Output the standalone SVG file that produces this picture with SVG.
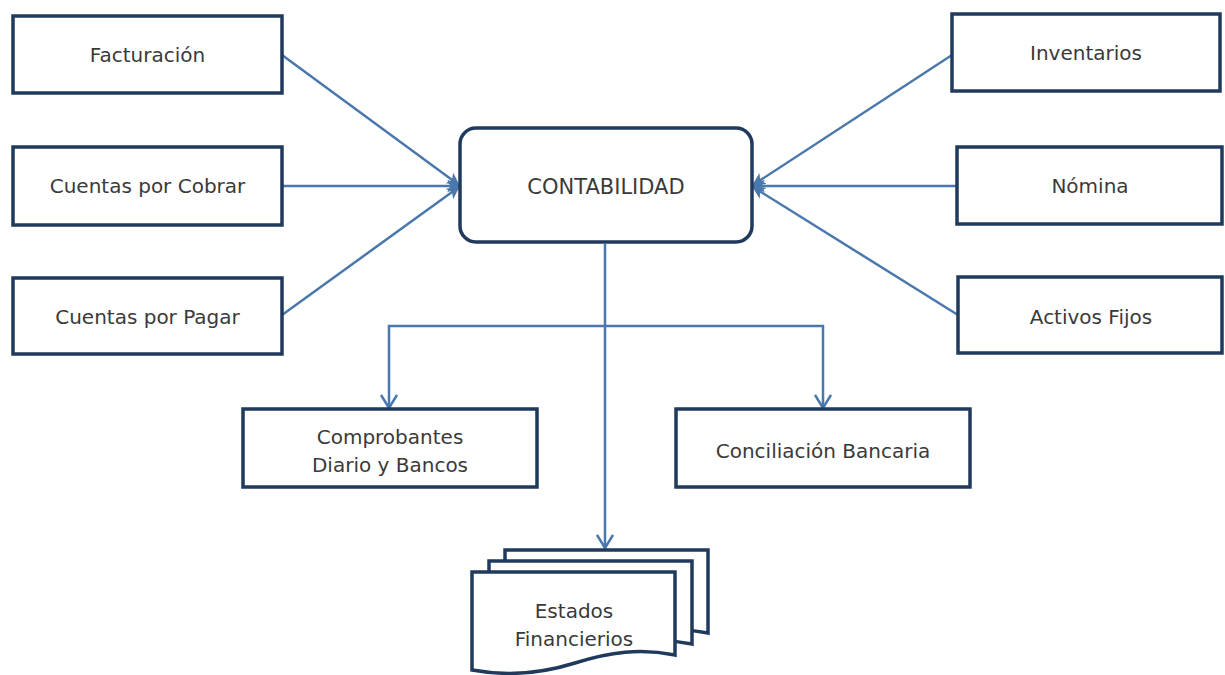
<svg xmlns="http://www.w3.org/2000/svg" width="1225" height="675" viewBox="0 0 1225 675">
<defs>
<style>
.box{fill:#ffffff;stroke:#1f3a5c;stroke-width:3.5}
.lbl{font-family:"DejaVu Sans","Liberation Sans",sans-serif;font-size:20px;fill:#3a3a3a;text-anchor:middle;dominant-baseline:central}
.con{fill:none;stroke:#4a78ad;stroke-width:2.5}
</style>
<marker id="af" viewBox="0 0 12 12" refX="11" refY="6" markerWidth="13" markerHeight="13" markerUnits="userSpaceOnUse" orient="auto">
<path d="M0,0 L12,6 L0,12 L3,6 z" fill="#4a78ad"/>
</marker>
<marker id="av" viewBox="0 0 16 18" refX="14" refY="9" markerWidth="16" markerHeight="18" markerUnits="userSpaceOnUse" orient="auto">
<path d="M1,1 L14,9 L1,17" fill="none" stroke="#4a78ad" stroke-width="2.5"/>
</marker>
<path id="doc" d="M0,0 H203 V83 C168,76 138,80 103,91 C68,102 33,104 0,98 Z"/>
</defs>
<rect width="1225" height="675" fill="#ffffff"/>

<g id="connectors">
<line class="con" x1="282" y1="55" x2="459" y2="185" marker-end="url(#af)"/>
<line class="con" x1="282" y1="186" x2="459" y2="186" marker-end="url(#af)"/>
<line class="con" x1="282" y1="315" x2="459" y2="187" marker-end="url(#af)"/>
<line class="con" x1="952" y1="55" x2="753" y2="185" marker-end="url(#af)"/>
<line class="con" x1="957" y1="186" x2="753" y2="186" marker-end="url(#af)"/>
<line class="con" x1="958" y1="315" x2="753" y2="187" marker-end="url(#af)"/>
<path class="con" d="M605,244 V548" marker-end="url(#av)"/>
<path class="con" d="M605,326 H389 V408" marker-end="url(#av)"/>
<path class="con" d="M605,326 H823 V408" marker-end="url(#av)"/>
</g>

<g id="facturacion">
<rect class="box" x="13" y="16" width="269" height="77"/>
<text class="lbl" x="147.5" y="55">Facturación</text>
</g>
<g id="cuentas-cobrar">
<rect class="box" x="13" y="147" width="269" height="78"/>
<text class="lbl" x="147.5" y="186">Cuentas por Cobrar</text>
</g>
<g id="cuentas-pagar">
<rect class="box" x="13" y="278" width="269" height="76"/>
<text class="lbl" x="147.5" y="317">Cuentas por Pagar</text>
</g>

<g id="contabilidad">
<rect class="box" x="460" y="128" width="292" height="114" rx="16" ry="16"/>
<text class="lbl" x="606" y="187" style="font-size:21px">CONTABILIDAD</text>
</g>

<g id="inventarios">
<rect class="box" x="952" y="14" width="268" height="77"/>
<text class="lbl" x="1086" y="53">Inventarios</text>
</g>
<g id="nomina">
<rect class="box" x="957" y="147" width="265" height="77"/>
<text class="lbl" x="1090" y="186">Nómina</text>
</g>
<g id="activos-fijos">
<rect class="box" x="958" y="277" width="264" height="76"/>
<text class="lbl" x="1091" y="317">Activos Fijos</text>
</g>

<g id="comprobantes">
<rect class="box" x="243" y="409" width="294" height="78"/>
<text class="lbl" x="390" y="437">Comprobantes</text>
<text class="lbl" x="390" y="465">Diario y Bancos</text>
</g>
<g id="conciliacion">
<rect class="box" x="676" y="409" width="294" height="78"/>
<text class="lbl" x="823" y="451">Conciliación Bancaria</text>
</g>

<g id="estados-financieros">
<use href="#doc" x="505" y="550" class="box"/>
<use href="#doc" x="489" y="561" class="box"/>
<use href="#doc" x="472" y="572" class="box"/>
<text class="lbl" x="574" y="611">Estados</text>
<text class="lbl" x="574" y="639">Financierios</text>
</g>
</svg>
